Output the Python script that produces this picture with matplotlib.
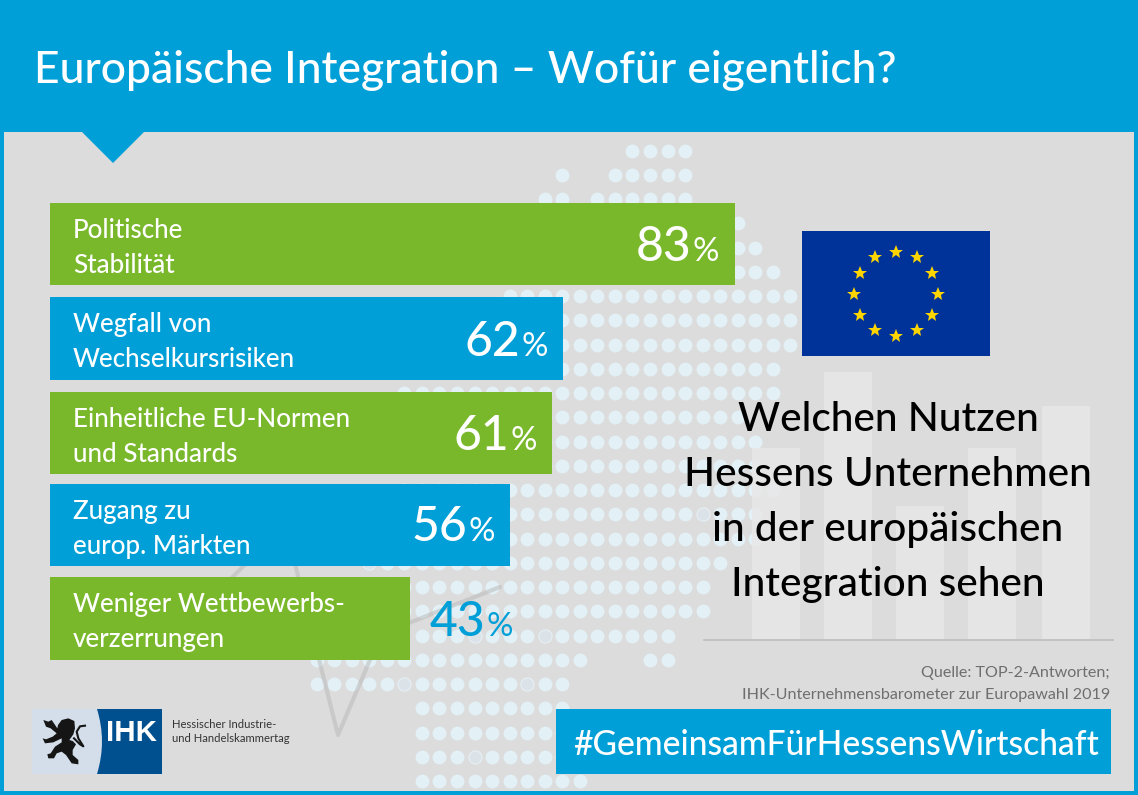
import numpy as np
import matplotlib
matplotlib.use("Agg")
import matplotlib.pyplot as plt
from matplotlib.patches import Rectangle, Polygon, PathPatch
from matplotlib.path import Path

# --- Daten ---
title = "Europäische Integration – Wofür eigentlich?"
categories = [
    "Politische\nStabilität",
    "Wegfall von\nWechselkursrisiken",
    "Einheitliche EU-Normen\nund Standards",
    "Zugang zu\neurop. Märkten",
    "Weniger Wettbewerbs-\nverzerrungen",
]
percent_labels = [83, 62, 61, 56, 43]
bar_lengths = [83.0, 62.2, 60.9, 55.8, 43.6]  # Balkenlaenge wie im Bild gemessen
question = ["Welchen Nutzen", "Hessens Unternehmen", "in der europäischen", "Integration sehen"]
source = ["Quelle: TOP-2-Antworten;", "IHK-Unternehmensbarometer zur Europawahl 2019"]
hashtag = "#GemeinsamFürHessensWirtschaft"

# Hintergrund: Punktkarte, je Zeile die Spaltenbereiche
dot_rows = [
    [(4, 7)], [(0, 0), (3, 7)], [(-1, 0), (2, 7)], [(-1, 10)], [(-1, 11)], [(-1, 12)],
    [(-3, 13)], [(-3, 13)], [(-3, 13)], [(-3, 12)], [(-9, 12)], [(-9, 10)], [(-9, 11)],
    [(-9, 11)], [(-9, 12)], [(-9, 11)], [(-9, 11)], [(-11, 9)], [(-11, 8)], [(-11, 8)],
    [(-8, 6)], [(-14, 1), (5, 6)], [(-14, 0)], [(-8, 0)], [(-8, 0)], [(-8, 0)], [(-8, 1)],
]
ring_dots = [(8, 15), (-11, 17), (-9, 22), (-2, 22), (-5, 25), (-5, 20), (-1, 20)]
bg_bar_tops = [448, 372, 506, 448, 406]

BLUE = "#009FD7"
GREEN = "#78B82A"
GREY = "#DCDCDC"
FONT = "Lato"

plt.rcParams["font.family"] = [FONT, "DejaVu Sans"]

fig = plt.figure(figsize=(11.38, 7.95), dpi=100)
ax = fig.add_axes([0, 0, 1, 1])
ax.set_xlim(0, 1138)
ax.set_ylim(795, 0)
ax.axis("off")


def px(size):
    return size * 0.72


# Rahmen und Kopf
ax.add_patch(Rectangle((0, 0), 1138, 795, color=BLUE, lw=0, zorder=0))
ax.add_patch(Rectangle((4, 132), 1130, 659, color=GREY, lw=0, zorder=0.5))
ax.add_patch(Polygon([(81, 131), (145, 131), (113, 163)], closed=True, color=BLUE, lw=0, zorder=1))
ax.text(34, 83, title, color="white", fontsize=px(44.5), fontweight="medium", va="baseline", zorder=6)

# Punktkarte
dot_x, dot_y = [], []
for r, spans in enumerate(dot_rows):
    for a, b in spans:
        for k in range(a, b + 1):
            if (k, r) in ring_dots:
                continue
            dot_x.append(562.3 + 17.55 * k)
            dot_y.append(150.7 + 24.25 * r)
ax.scatter(dot_x, dot_y, s=100, color="#E3F1F6", linewidths=0, zorder=1)
ax.scatter([562.3 + 17.55 * k for k, r in ring_dots], [150.7 + 24.25 * r for k, r in ring_dots],
           s=90, facecolor="#DBE3E8", edgecolor="#E6F0F4", linewidths=0.8, zorder=1)

# Linie im Hintergrund
ax.plot([200, 285, 338, 381, 500], [610, 524, 735, 634, 587], color="#B8B8B8", alpha=0.5, lw=3,
        solid_capstyle="round", solid_joinstyle="round", zorder=1.5)

# Saeulen im Hintergrund
for i, top in enumerate(bg_bar_tops):
    left = [752, 824, 896, 968, 1042][i]
    ax.add_patch(Rectangle((left, top), 48, 640 - top, color="#E7E7E7", alpha=0.85, lw=0, zorder=1.6))
ax.plot([704, 1113], [640, 640], color="#BDBDBD", lw=1.2, zorder=2)

# Balken
bar_tops = [203, 297, 392, 484, 577]
bar_heights = [82, 83, 82, 82, 83]
bar_colors = [GREEN, BLUE, GREEN, BLUE, GREEN]
scale = 8.25
renderer = fig.canvas.get_renderer()
for i, cat in enumerate(categories):
    w = bar_lengths[i] * scale
    ax.barh(bar_tops[i] + bar_heights[i] / 2, w, left=50, height=bar_heights[i],
            color=bar_colors[i], lw=0, zorder=3)
    line1, line2 = cat.split("\n")
    ax.text(73, bar_tops[i] + 35, line1, color="white", fontsize=px(26), fontweight="medium", va="baseline", zorder=4)
    ax.text(73, bar_tops[i] + 70, line2, color="white", fontsize=px(26), fontweight="medium", va="baseline", zorder=4)

    inside = i < 4
    right = 50 + w - 15.5 if inside else 513
    c = "white" if inside else BLUE
    base = bar_tops[i] + [58, 59, 58, 57, 59][i]
    pct = ax.text(right, base, "%", color=c, fontsize=px(33), va="baseline", ha="right", zorder=4)
    bb = pct.get_window_extent(renderer)
    ax.text(right - bb.width - 1, base, str(percent_labels[i]), color=c, fontsize=px(48), fontweight="medium",
            va="baseline", ha="right", zorder=4)

# Flagge
ax.add_patch(Rectangle((802, 231), 188, 125, color="#003399", lw=0, zorder=2))
ang = np.deg2rad(np.arange(12) * 30)
ax.plot(896 + 42 * np.sin(ang), 293.5 - 42 * np.cos(ang), ls="none", marker="*", ms=10.5,
        color="#FFD500", mew=0, zorder=3)

# Frage rechts
for i, line in enumerate(question):
    ax.text(888, 431 + 55 * i, line, color="black", fontsize=px(40.5), fontweight="medium",
            ha="center", va="baseline", zorder=4)

# Quelle
ax.text(1110, 677, source[0], color="#6E6E6E", fontsize=px(16.1), ha="right", va="baseline", zorder=4)
ax.text(1110, 699, source[1], color="#6E6E6E", fontsize=px(16.1), ha="right", va="baseline", zorder=4)

# Hashtag
ax.add_patch(Rectangle((556, 709), 555, 65, color=BLUE, lw=0, zorder=3))
ax.text(836, 755, hashtag, color="white", fontsize=px(33.7), fontweight="medium", ha="center", va="baseline", zorder=4)

# Logo
ax.add_patch(Rectangle((32, 709), 70, 65, color="#D3DEEA", lw=0, zorder=3))
logo = Path([(97, 709), (162, 709), (162, 774), (97, 774), (107, 741.5), (97, 709)],
            [Path.MOVETO, Path.LINETO, Path.LINETO, Path.LINETO, Path.CURVE3, Path.CURVE3])
ax.add_patch(PathPatch(logo, facecolor="#004F8F", lw=0, zorder=3.5))
ax.text(132, 741, "IHK", color="white", fontsize=px(29.5), fontweight="bold", family="Liberation Sans",
        ha="center", va="baseline", zorder=4)
ax.text(172, 728, "Hessischer Industrie-", color="#333333", fontsize=px(11.3), va="baseline", zorder=4)
ax.text(172, 742, "und Handelskammertag", color="#333333", fontsize=px(11.3), va="baseline", zorder=4)

# Loewe (grob)
lion = np.array([(84, 60), (95, 45), (115, 40), (133, 48), (135, 70), (130, 88), (118, 105), (128, 108),
                 (138, 118), (128, 135), (128, 150), (145, 165), (145, 178), (125, 175), (108, 150),
                 (95, 140), (80, 145), (72, 160), (55, 160), (52, 148), (62, 145), (75, 125), (95, 112),
                 (95, 100), (70, 112), (45, 115), (38, 100), (48, 103), (68, 95), (80, 85), (62, 70),
                 (48, 65), (40, 45), (55, 50), (65, 45), (82, 70)], dtype=float)
lion = lion / 3 + [30, 705]
ax.add_patch(Polygon(lion, closed=True, color="#151515", lw=0, zorder=4))
tail = np.array([(132, 100), (150, 118), (160, 124), (145, 100), (140, 80), (150, 64), (165, 62)], dtype=float) / 3 + [30, 705]
ax.plot(tail[:, 0], tail[:, 1], color="#151515", lw=1.5, zorder=4)

fig.savefig("out.png", dpi=100)
